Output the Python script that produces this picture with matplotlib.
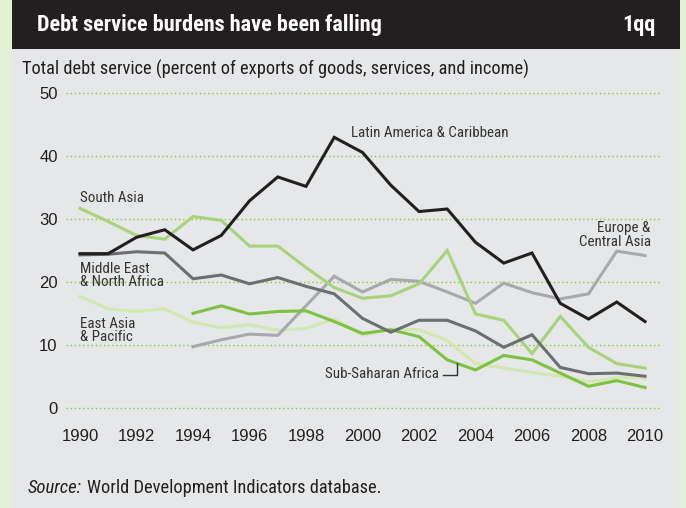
import matplotlib
matplotlib.use("Agg")
import matplotlib.pyplot as plt
from matplotlib.patches import Rectangle

plt.rcParams['font.family'] = ['Liberation Sans Narrow', 'Roboto Condensed', 'Liberation Sans', 'DejaVu Sans']

years = list(range(1990, 2011))
years_94 = list(range(1994, 2011))

latin_america = [24.5, 24.5, 27.1, 28.3, 25.1, 27.4, 32.9, 36.7, 35.2, 43.0, 40.6,
                 35.4, 31.2, 31.6, 26.3, 23.0, 24.6, 16.6, 14.1, 16.8, 13.7]
south_asia = [31.7, 29.6, 27.4, 26.8, 30.4, 29.8, 25.7, 25.7, 22.3, 19.1, 17.4,
              17.8, 19.7, 25.0, 14.9, 13.9, 8.6, 14.5, 9.6, 7.0, 6.3]
mena = [24.3, 24.4, 24.8, 24.6, 20.5, 21.1, 19.7, 20.7, 19.3, 18.1, 14.2,
        12.0, 13.9, 13.9, 12.2, 9.6, 11.6, 6.4, 5.4, 5.5, 5.0]
east_asia = [17.7, 15.7, 15.3, 15.7, 13.6, 12.7, 13.2, 12.3, 12.6, 14.1, 11.5,
             12.5, 12.4, 10.7, 7.0, 6.3, 5.6, 5.0, 4.1, 4.8, 4.7]
europe = [9.7, 10.8, 11.7, 11.5, 16.2, 20.9, 18.4, 20.4, 20.1, 18.4, 16.6,
          19.8, 18.3, 17.3, 18.1, 24.9, 24.2]
ssa = [15.0, 16.2, 14.9, 15.3, 15.4, 13.7, 11.8, 12.4, 11.3, 7.6, 6.0,
       8.3, 7.6, 5.5, 3.4, 4.3, 3.2]

yticks = [0, 10, 20, 30, 40, 50]
xticks = list(range(1990, 2011, 2))

title = "Debt service burdens have been falling"
tag = "1qq"
ylabel = "Total debt service (percent of exports of goods, services, and income)"

W, H = 686, 508
fig = plt.figure(figsize=(W / 100, H / 100), dpi=100)
fig.patch.set_facecolor('#e4f0d4')

# panel and header
bg = fig.add_axes([0, 0, 1, 1], zorder=0)
bg.set_xlim(0, W)
bg.set_ylim(H, 0)
bg.axis('off')
bg.add_patch(Rectangle((12, 0), 668, H, facecolor='#e6e7e8', edgecolor='none'))
bg.add_patch(Rectangle((12, 0), 668, 49, facecolor='#231f20', edgecolor='none'))
bg.text(37, 25, title, color='white', fontsize=16, fontweight='bold', va='center', ha='left')
bg.text(656, 25, tag, color='white', fontsize=16, fontweight='bold', va='center', ha='right')
bg.text(22, 69, ylabel, color='#231f20', fontsize=13.2, va='center', ha='left')
bg.text(28, 488, "Source:", color='#231f20', fontsize=13.5, style='italic', va='center', ha='left')
bg.text(87, 488, "World Development Indicators database.", color='#231f20',
        fontsize=13.2, va='center', ha='left')

ax_left, ax_right = 66, 660
ax_top, ax_bot = 90.2, 410.8
ax = fig.add_axes([ax_left / W, 1 - ax_bot / H, (ax_right - ax_left) / W, (ax_bot - ax_top) / H], zorder=2)
ax.set_facecolor('none')
ax.set_xlim(1990 - 14 / 28.25, 2010 + 15 / 28.25)
ax.set_ylim(-0.5, 50.5)
for s in ax.spines.values():
    s.set_visible(False)

for v in yticks:
    ax.axhline(v, color='#8dc63f', lw=1.0, linestyle=(0, (1, 2)), zorder=1)

ax.set_yticks(yticks)
ax.set_xticks(xticks)
ax.tick_params(axis='both', length=0, labelcolor='#231f20')
ax.tick_params(axis='y', pad=6)
ax.tick_params(axis='x', pad=13)
for t in ax.get_xticklabels() + ax.get_yticklabels():
    t.set_fontfamily(['Liberation Sans', 'DejaVu Sans'])
    t.set_fontsize(12)

lw = 2.2
ax.plot(years, east_asia, color='#d3e8b0', lw=lw, zorder=3, solid_joinstyle='miter')
ax.plot(years_94, europe, color='#a7a9ac', lw=lw, zorder=3, solid_joinstyle='miter')
ax.plot(years_94, ssa, color='#7dc242', lw=lw, zorder=4, solid_joinstyle='miter')
ax.plot(years, south_asia, color='#a9d37a', lw=lw, zorder=4, solid_joinstyle='miter')
ax.plot(years, mena, color='#6d6e71', lw=lw, zorder=5, solid_joinstyle='miter')
ax.plot(years, latin_america, color='#231f20', lw=lw, zorder=6, solid_joinstyle='miter')

lab = dict(fontsize=10.8, color='#333333', zorder=7)
ax.text(1999.6, 43.7, "Latin America & Caribbean", ha='left', va='center', **lab)
ax.text(1990, 33.3, "South Asia", ha='left', va='center', **lab)
ax.text(1990, 21.0, "Middle East\n& North Africa", ha='left', va='center', linespacing=0.95, **lab)
ax.text(1990, 12.3, "East Asia\n& Pacific", ha='left', va='center', linespacing=0.95, **lab)
ax.text(2010.2, 27.5, "Europe &\nCentral Asia", ha='right', va='center', linespacing=0.95, **lab)
ax.text(2002.72, 5.3, "Sub-Saharan Africa", ha='right', va='center', **lab)
ax.plot([2002.86, 2003.33, 2003.33], [5.2, 5.2, 7.07], color='#333333', lw=1.0, zorder=7)

fig.savefig("out.png", dpi=100, facecolor=fig.get_facecolor())
